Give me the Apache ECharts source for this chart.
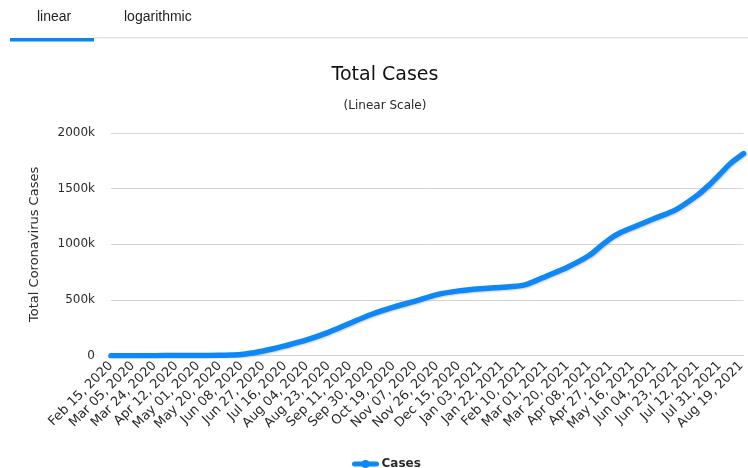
<!DOCTYPE html>
<html><head><meta charset="utf-8">
<script src="https://cdn.jsdelivr.net/npm/echarts@6/dist/echarts.min.js"></script>
<style>html,body{margin:0;padding:0;background:#fff}#c{width:748px;height:468px}</style>
</head><body><div id="c"></div>
<script>
const startDate = '2020-02-15';
const endDate = '2021-08-21';
const dates = [
  '2020-02-15','2020-03-05','2020-03-24','2020-04-12','2020-05-01','2020-05-20','2020-05-30',
  '2020-06-08','2020-06-18','2020-06-27','2020-07-06','2020-07-16','2020-08-04','2020-08-23',
  '2020-09-11','2020-09-30','2020-10-19','2020-11-07','2020-11-26','2020-12-15','2021-01-03',
  '2021-01-22','2021-02-10','2021-02-20','2021-03-01','2021-03-20','2021-04-08','2021-04-17',
  '2021-04-27','2021-05-06','2021-05-16','2021-06-04','2021-06-23','2021-07-12','2021-07-22',
  '2021-07-31','2021-08-09','2021-08-19','2021-08-21'
];
const cases = [
  0, 35, 270, 1400, 2100, 3600, 6000,
  10000, 25000, 42000, 62000, 88000, 142000, 210000,
  292000, 372000, 436000, 490000, 549000, 582000, 601000,
  614000, 634000, 672000, 712000, 795000, 900000, 975000,
  1055000, 1108000, 1152000, 1232000, 1312000, 1444000, 1534000,
  1626000, 1722000, 1800000, 1815000
];
const yTicks = [0, 500000, 1000000, 1500000, 2000000];
const tabLabels = ['linear', 'logarithmic'];
const titleText = 'Total Cases';
const subtitleText = '(Linear Scale)';
const yAxisTitle = 'Total Coronavirus Cases';
const seriesName = 'Cases';

const DAY = 86400000;
const t0 = Date.parse(startDate + 'T00:00:00Z');
function dayIndex(s) { return Math.round((Date.parse(s + 'T00:00:00Z') - t0) / DAY); }
const MONTHS = ['Jan','Feb','Mar','Apr','May','Jun','Jul','Aug','Sep','Oct','Nov','Dec'];
function fmtDay(d) {
  const dt = new Date(t0 + d * DAY);
  const dd = String(dt.getUTCDate()).padStart(2, '0');
  return MONTHS[dt.getUTCMonth()] + ' ' + dd + ', ' + dt.getUTCFullYear();
}
const seriesData = dates.map((d, i) => [dayIndex(d), cases[i]]);

const chart = echarts.init(document.getElementById('c'), null, {renderer: 'canvas'});
const FONT = 'DejaVu Sans';
const BLUE = '#0d88f6';
chart.setOption({
  animation: false,
  backgroundColor: '#fff',
  grid: {left: 111, top: 133, right: 0, bottom: 112.3, containLabel: false},
  xAxis: {
    type: 'value', min: 0, max: dayIndex(endDate), interval: 19,
    axisLine: {show: true, lineStyle: {color: '#ccd6eb', width: 1}},
    axisTick: {show: false},
    splitLine: {show: false},
    axisLabel: {
      rotate: 45, fontSize: 13, fontFamily: FONT, color: '#2a2a2a', margin: 8,
      showMaxLabel: false, showMinLabel: true,
      formatter: v => fmtDay(v)
    }
  },
  yAxis: {
    type: 'value', min: yTicks[0], max: yTicks[yTicks.length - 1], interval: yTicks[1] - yTicks[0],
    name: yAxisTitle, nameLocation: 'middle', nameRotate: 90, nameGap: 70,
    nameTextStyle: {fontSize: 13, fontFamily: FONT, color: '#2a2a2a'},
    axisLine: {show: false}, axisTick: {show: false},
    splitLine: {lineStyle: {color: '#d6d6d6', width: 1}},
    axisLabel: {
      fontSize: 12, fontFamily: FONT, color: '#2a2a2a', margin: 16,
      formatter: v => v === 0 ? '0' : (v / 1000) + 'k'
    }
  },
  legend: {
    data: [seriesName], left: 347, top: 453, itemWidth: 22, itemHeight: 10, itemGap: 6,
    lineStyle: {width: 5, color: BLUE},
    textStyle: {fontSize: 12, fontFamily: FONT, fontWeight: 'bold', color: '#2a2a2a'}
  },
  series: [{
    name: seriesName, type: 'line', data: seriesData, smooth: 0.3,
    showSymbol: false, symbol: 'circle', symbolSize: 9,
    itemStyle: {color: BLUE},
    lineStyle: {color: BLUE, width: 5.5, cap: 'round', join: 'round',
      shadowColor: 'rgba(0,0,0,0.18)', shadowBlur: 2, shadowOffsetY: 1, shadowOffsetX: 1}
  }],
  graphic: [
    {type: 'rect', shape: {x: 94, y: 37, width: 654, height: 1.5}, style: {fill: '#e4e4e4'}},
    {type: 'rect', shape: {x: 10, y: 38, width: 84, height: 3.5}, style: {fill: '#0a84f6'}},
    {type: 'text', x: 37, y: 17, style: {text: tabLabels[0], font: '14px "Liberation Sans", Arial, sans-serif', fill: '#222', textAlign: 'left', textVerticalAlign: 'middle'}},
    {type: 'text', x: 124, y: 17, style: {text: tabLabels[1], font: '14px "Liberation Sans", Arial, sans-serif', fill: '#222', textAlign: 'left', textVerticalAlign: 'middle'}},
    {type: 'text', x: 385, y: 75, style: {text: titleText, font: '19px "DejaVu Sans"', fill: '#111', textAlign: 'center', textVerticalAlign: 'middle'}},
    {type: 'text', x: 385, y: 106, style: {text: subtitleText, font: '12px "DejaVu Sans"', fill: '#2a2a2a', textAlign: 'center', textVerticalAlign: 'middle'}}
  ]
});
</script>
</body></html>
